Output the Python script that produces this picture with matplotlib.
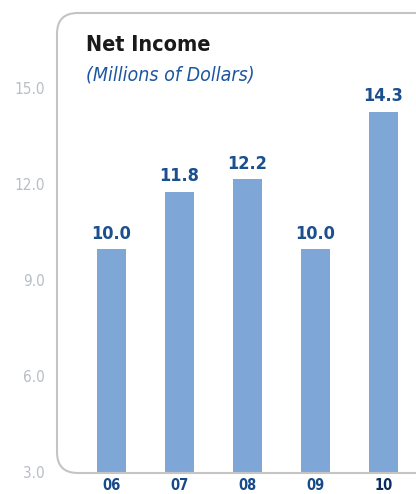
import matplotlib.pyplot as plt
from matplotlib.patches import FancyBboxPatch

years = ["06", "07", "08", "09", "10"]
income = [10.0, 11.8, 12.2, 10.0, 14.3]
yticks = [3.0, 6.0, 9.0, 12.0, 15.0]

plt.rcParams['font.family'] = ['DejaVu Sans']
plt.rcParams['font.stretch'] = 'condensed'

W, H = 416, 494
fig = plt.figure(figsize=(W / 100, H / 100), dpi=100)

# axes placed in pixel terms: left 57, right 416, top 13, bottom 473
ax = fig.add_axes([57 / W, 1 - 473 / H, (416 - 57) / W, (473 - 13) / H])
ax.bar(range(len(years)), income, width=0.43, bottom=0, color="#7ea7d8")
ax.set_ylim(3.0, 17.39)
ax.set_xlim(-0.80, 4.48)

for i, v in enumerate(income):
    ax.text(i, v + 0.2, f"{v:.1f}", ha="center", va="bottom",
            fontsize=13, fontweight="bold", color="#1b4f8e")

for s in ax.spines.values():
    s.set_visible(False)
ax.set_xticks([])
ax.set_yticks([])

# y tick labels outside the frame
for t in yticks:
    ax.text(-0.98, t, f"{t:.1f}", ha="right", va="center",
            fontsize=11, color="#b9bdc4", clip_on=False)

# year labels below (the reference crops them at the bottom edge)
for i, y in enumerate(years):
    ax.text(i, 2.62, y, ha="center", va="center", fontsize=10.5, fontweight="bold",
            color="#184a8a" if y != "10" else "#0b2c5e", clip_on=False)

# rounded frame
frame = FancyBboxPatch((57 / W, 1 - 473 / H), (440 - 57) / W, (473 - 13) / H,
                       boxstyle="round,pad=0,rounding_size=0.05",
                       transform=fig.transFigure, fill=False,
                       edgecolor="#c4c4c4", linewidth=1.5, clip_on=False,
                       mutation_aspect=W / H)
fig.patches.append(frame)

fig.text(86 / W, 1 - 45 / H, "Net Income", fontsize=15.5, fontweight="bold",
         color="#1a1a1a", va="center", ha="left")
fig.text(86 / W, 1 - 75 / H, "(Millions of Dollars)", fontsize=14, style="italic",
         color="#1c56a0", va="center", ha="left")

fig.savefig("out.png", dpi=100)
